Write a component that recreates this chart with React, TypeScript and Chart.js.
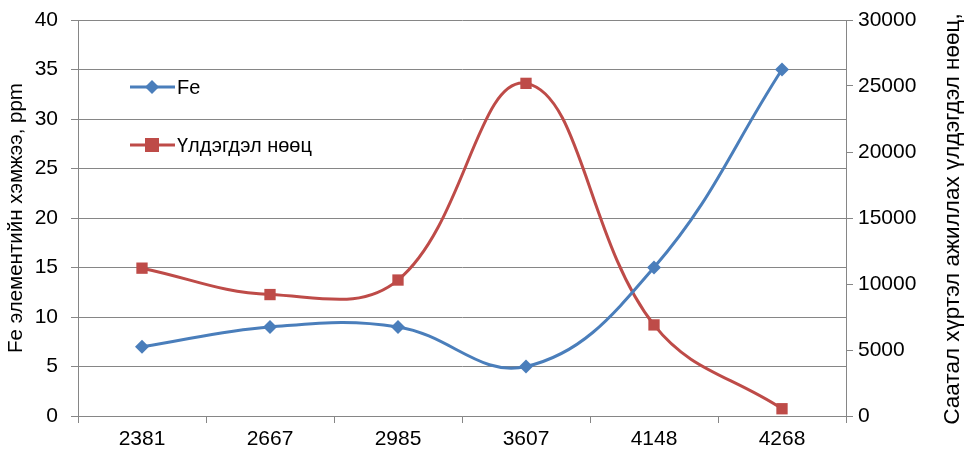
import React, { useEffect, useRef } from "react";
import { Chart, registerables } from "chart.js";

Chart.register(...registerables);

const categories = ["2381", "2667", "2985", "3607", "4148", "4268"];
const feValues = [7, 9, 9, 5, 15, 35];
const reserveValues = [11200, 9200, 10300, 25200, 6900, 550];
const seriesNames = ["Fe", "Үлдэгдэл нөөц"];
const leftTitle = "Fe элементийн хэмжээ, ppm";
const rightTitle = "Саатал хүртэл ажиллах үлдэгдэл нөөц,";

const BLUE = "#4A7EBB";
const RED = "#BE4B48";
const GRID = "#868686";
const FONT = "'Liberation Sans', Arial, sans-serif";

const legendPlugin = {
  id: "insideLegend",
  afterDraw(chart: any) {
    const { ctx, chartArea } = chart;
    const x0 = chartArea.left + 52;
    const ys = [chartArea.top + 67, chartArea.top + 125];
    chart.data.datasets.forEach((ds: any, i: number) => {
      const y = ys[i];
      ctx.save();
      ctx.strokeStyle = ds.borderColor;
      ctx.lineWidth = 3;
      ctx.beginPath();
      ctx.moveTo(x0, y);
      ctx.lineTo(x0 + 45, y);
      ctx.stroke();
      ctx.fillStyle = ds.backgroundColor;
      const cx = x0 + 22;
      if (i === 0) {
        ctx.beginPath();
        ctx.moveTo(cx, y - 7);
        ctx.lineTo(cx + 7, y);
        ctx.lineTo(cx, y + 7);
        ctx.lineTo(cx - 7, y);
        ctx.closePath();
        ctx.fill();
      } else {
        ctx.fillRect(cx - 7, y - 7, 14, 14);
      }
      ctx.fillStyle = "#000";
      ctx.font = `20px ${FONT}`;
      ctx.textBaseline = "middle";
      ctx.textAlign = "left";
      ctx.fillText(ds.label, x0 + 47, y + 1);
      ctx.restore();
    });
    // right axis title, reading bottom-to-top
    const s = chart.scales.y1;
    ctx.save();
    ctx.translate(s.right - 13, (chartArea.top + chartArea.bottom) / 2 + 1);
    ctx.rotate(-Math.PI / 2);
    ctx.fillStyle = "#000";
    ctx.font = `22.5px ${FONT}`;
    ctx.textAlign = "center";
    ctx.textBaseline = "middle";
    ctx.fillText(rightTitle, 0, 0);
    ctx.restore();
  },
};

export default function App() {
  const ref = useRef<HTMLCanvasElement>(null);
  useEffect(() => {
    if (!ref.current) return;
    const chart = new Chart(ref.current, {
      type: "line",
      data: {
        labels: categories,
        datasets: [
          {
            label: seriesNames[0],
            data: feValues,
            yAxisID: "y",
            borderColor: BLUE,
            backgroundColor: BLUE,
            borderWidth: 3,
            pointStyle: "rectRot",
            pointRadius: 7,
            pointHoverRadius: 7,
            pointBorderWidth: 0,
            tension: 0.4,
            clip: false as any,
          },
          {
            label: seriesNames[1],
            data: reserveValues,
            yAxisID: "y1",
            borderColor: RED,
            backgroundColor: RED,
            borderWidth: 3,
            pointStyle: "rect",
            pointRadius: 8,
            pointHoverRadius: 8,
            pointBorderWidth: 0,
            tension: 0.4,
            clip: false as any,
          },
        ],
      },
      options: {
        responsive: false,
        animation: false,
        layout: { padding: { top: 20, left: 0, right: 0, bottom: 0 } },
        plugins: { legend: { display: false }, tooltip: { enabled: false } },
        scales: {
          x: {
            type: "category",
            offset: true,
            grid: {
              offset: true,
              drawOnChartArea: false,
              drawTicks: true,
              tickLength: 7,
              color: GRID,
            },
            border: { color: GRID },
            ticks: { color: "#000", font: { size: 21, family: FONT }, padding: 4 },
            afterFit: (s: any) => {
              s.height = 39;
            },
          },
          y: {
            position: "left",
            min: 0,
            max: 40,
            ticks: {
              stepSize: 5,
              color: "#000",
              font: { size: 21, family: FONT },
              padding: 13,
            },
            grid: { color: GRID, tickLength: 7 },
            border: { color: GRID },
            title: {
              display: true,
              text: leftTitle,
              color: "#000",
              font: { size: 20.5, family: FONT },
              padding: { top: 4, bottom: 0 },
            },
            afterFit: (s: any) => {
              s.width = 78;
              s.paddingTop = 2;
              s.paddingBottom = 2;
            },
          },
          y1: {
            position: "right",
            min: 0,
            max: 30000,
            ticks: {
              stepSize: 5000,
              color: "#000",
              font: { size: 21, family: FONT },
              padding: 5,
              callback: (v: any) => String(v),
            },
            grid: { drawOnChartArea: false, color: GRID, tickLength: 7 },
            border: { color: GRID },
            title: { display: false },
            afterFit: (s: any) => {
              s.width = 120;
              s.paddingTop = 2;
              s.paddingBottom = 2;
            },
          },
        },
      },
      plugins: [legendPlugin],
    });
    return () => chart.destroy();
  }, []);
  return (
    <div style={{ position: "absolute", left: 0, top: 0, width: 966, height: 455, background: "#fff" }}>
      <canvas ref={ref} width={966} height={455} />
    </div>
  );
}
